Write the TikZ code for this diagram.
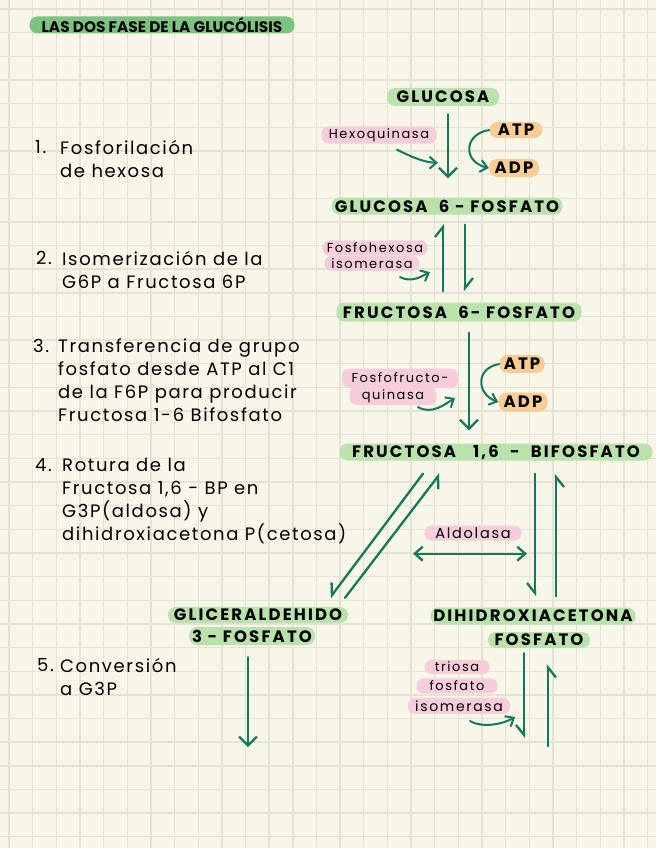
\documentclass[tikz,border=0pt]{standalone}
\usepackage{fontspec}
\setmainfont{Poppins}
\newfontfamily\notefont{Poppins}[LetterSpace=9]
\newfontfamily\tagfont{Poppins}[LetterSpace=12]
\newfontfamily\cmpdfont{Poppins}[LetterSpace=13]
\usetikzlibrary{arrows.meta,positioning}
\definecolor{Paper}{HTML}{F8F5E9}
\definecolor{GridLine}{HTML}{E6E2D4}
\definecolor{TitleGreen}{HTML}{7BC47F}
\definecolor{PillGreen}{HTML}{B9E2AC}
\definecolor{EnzPink}{HTML}{F7CDDC}
\definecolor{EnergyOrange}{HTML}{F8CD93}
\definecolor{Reaction}{HTML}{12795B}

\begin{document}
\begin{tikzpicture}[
  x=1pt, y=-1pt,
  gridline/.style={draw=GridLine, line width=1.4pt},
  pill/.style={rounded corners=8pt, inner xsep=3pt, inner ysep=0pt, minimum height=17pt, font=\cmpdfont\bfseries\fontsize{16.5}{18}\selectfont},
  compound/.style={pill, fill=PillGreen},
  enzyme/.style={pill, fill=EnzPink, minimum height=15pt, rounded corners=7pt, font=\tagfont\fontsize{13}{15}\selectfont},
  energy/.style={pill, fill=EnergyOrange},
  stepnote/.style={anchor=north west, align=left, inner sep=0pt, font=\notefont\fontsize{18}{23}\selectfont},
  rxn/.style={draw=Reaction, line width=2.3pt, line cap=round, -{Straight Barb[length=9pt,width=18pt]}},
  halfl/.style={rxn, -{Straight Barb[harpoon,length=10pt,width=16pt]}},
  halfr/.style={rxn, -{Straight Barb[harpoon,swap,length=10pt,width=16pt]}},
  both/.style={rxn, {Straight Barb[length=8pt,width=14pt]}-{Straight Barb[length=8pt,width=14pt]}},
  hint/.style={draw=Reaction, line width=2pt, line cap=round, -{Straight Barb[length=7pt,width=12pt]}}
]
\path[use as bounding box, fill=Paper] (0,0) rectangle (656,848);
\foreach \i in {0,...,27} \draw[gridline] ({9+23.65*\i},0) -- ++(0,848);
\foreach \j in {0,...,35} \draw[gridline] (0,{9+23.65*\j}) -- ++(656,0);

\node[pill, fill=TitleGreen, minimum width=265pt, font=\bfseries\fontsize{15.3}{18}\selectfont] (title) at (162,25) {LAS DOS FASE DE LA GLUCÓLISIS};

\node[compound, minimum width=112pt, minimum height=18pt] (glc) at (443,97) {GLUCOSA};
\node[compound, minimum width=231pt] (g6p) at (447,206) {GLUCOSA\ \ 6 - FOSFATO};
\node[compound, minimum width=245pt, minimum height=19pt] (f6p) at (459,312) {FRUCTOSA\ \ 6- FOSFATO};
\node[compound, minimum width=313pt] (f16bp) at (496,452) {FRUCTOSA\ \ \ 1,6 \ - \ BIFOSFATO};
\node[compound, minimum width=180pt, minimum height=16pt] (gap1) at (258,615) {GLICERALDEHIDO};
\node[compound, minimum width=114pt, minimum height=18pt] (gap2) at (252,636) {3 - FOSFATO};
\node[compound, minimum width=200pt] (dhap1) at (533,616) {DIHIDROXIACETONA};
\node[compound, minimum width=102pt, minimum height=16pt] (dhap2) at (539,640) {FOSFATO};

\node[enzyme, minimum width=115pt, minimum height=17pt] (hk) at (379,135) {Hexoquinasa};
\node[enzyme, minimum width=105pt] (pgi1) at (375,248) {Fosfohexosa};
\node[enzyme, minimum width=95pt, below=0pt of pgi1, xshift=-3pt] (pgi2) {isomerasa};
\node[enzyme, minimum width=116pt, minimum height=19pt] (pfk1) at (400,378) {Fosfofructo-};
\node[enzyme, minimum width=87pt, minimum height=18pt, below=-1pt of pfk1, xshift=-7pt] (pfk2) {quinasa};
\node[enzyme, minimum width=97pt, font=\tagfont\fontsize{14.5}{17}\selectfont] (ald) at (473,533) {Aldolasa};
\node[enzyme, minimum width=65pt, minimum height=14pt] (tpi1) at (457,667) {triosa};
\node[enzyme, minimum width=81pt, below=4pt of tpi1] (tpi2) {fosfato};
\node[enzyme, minimum width=102pt, minimum height=16pt, below=4pt of tpi2, xshift=2pt, font=\tagfont\fontsize{14}{16}\selectfont] (tpi3) {isomerasa};

\node[energy, minimum width=53pt, minimum height=16pt] (atp1) at (516,130) {ATP};
\node[energy, minimum width=50pt, minimum height=18pt] (adp1) at (514,168) {ADP};
\node[energy, minimum width=45pt, minimum height=18pt] (atp2) at (522,364) {ATP};
\node[energy, minimum width=49pt, minimum height=19pt] (adp2) at (523,402) {ADP};

\node[stepnote] (s1) at (35,140) {1.};
\node[stepnote] (s1txt) at (60,140) {Fosforilación\\de hexosa};
\node[stepnote] (s2) at (36,251) {2.};
\node[stepnote] (s2txt) at (62,251) {Isomerización de la\\G6P a Fructosa 6P};
\node[stepnote] (s3) at (33,339) {3.};
\node[stepnote] (s3txt) at (58,339) {Transferencia de grupo\\fosfato desde ATP al C1\\de la F6P para producir\\Fructosa 1-6 Bifosfato};
\node[stepnote] (s4) at (35,458) {4.};
\node[stepnote] (s4txt) at (62,458) {Rotura de la\\Fructosa 1,6 - BP en\\G3P(aldosa) y\\dihidroxiacetona P(cetosa)};
\node[stepnote] (s5) at (37,658) {5.};
\node[stepnote] (s5txt) at (60,658) {Conversión\\a G3P};

\draw[rxn] ([shift={(5,8)}]glc.south) -- ([shift={(1,-19)}]g6p.north);
\draw[halfl] ([shift={(-16,-11)}]f6p.north) -- ([shift={(-4,9)}]g6p.south);
\draw[halfl] ([shift={(18,10)}]g6p.south) -- ([shift={(6,-11)}]f6p.north);
\draw[rxn] ([shift={(10,11)}]f6p.south) -- ([shift={(-27,-13)}]f16bp.north);
\draw[halfr] ([shift={(-73,13)}]f16bp.south) -- ([shift={(72,-9)}]gap1.north);
\draw[halfr] ([shift={(87,-9)}]gap1.north) -- ([shift={(-56,13)}]f16bp.south);
\draw[halfr] ([shift={(39,13)}]f16bp.south) -- ([shift={(2,-11)}]dhap1.north);
\draw[halfr] ([shift={(23,-11)}]dhap1.north) -- ([shift={(60,13)}]f16bp.south);
\draw[both] ([shift={(-60,13)}]ald.south) -- ([shift={(54,13)}]ald.south);
\draw[rxn] ([shift={(-4,12)}]gap2.south) -- ++(0,90);
\draw[halfr] ([shift={(-15,5)}]dhap2.south) -- ++(0,85);
\draw[halfr] ([shift={(9,98)}]dhap2.south) -- ++(0,-82);

\draw[hint] ([shift={(18,6)}]hk.south) .. controls +(12,6) and +(-14,0) .. ++(41,13);
\draw[hint] (atp1.west) .. controls +(-26,4) and +(-26,-6) .. (adp1.west);
\draw[hint] ([shift={(28,6)}]pgi2.south) .. controls +(12,6) and +(-8,4) .. ++(30,-5);
\draw[hint] ([shift={(25,2)}]pfk2.south) .. controls +(14,8) and +(-10,6) .. ++(37,-9);
\draw[hint] (atp2.west) .. controls +(-24,4) and +(-22,-8) .. (adp2.west);
\draw[hint] ([shift={(11,7)}]tpi3.south) .. controls +(14,8) and +(-10,6) .. ++(45,-4);
\end{tikzpicture}
\end{document}
